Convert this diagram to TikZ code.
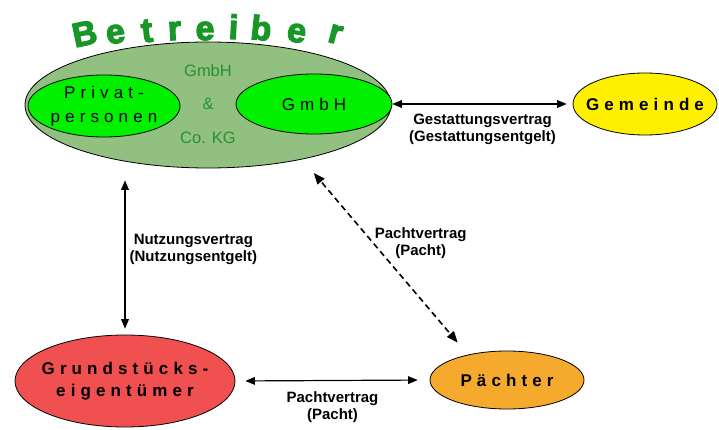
\documentclass[tikz,border=0pt]{standalone}
\usepackage{fontspec}
\setmainfont{Liberation Sans}
\newfontfamily\spacedfont[LetterSpace=30]{Liberation Sans}
\newfontfamily\heavyfont[FakeBold=3.5]{Liberation Sans Bold}
\usetikzlibrary{arrows}
\usetikzlibrary{shapes.geometric}

\definecolor{titlegreen}{RGB}{25,150,40}
\definecolor{sage}{RGB}{145,192,128}
\definecolor{formgreen}{RGB}{40,145,45}
\definecolor{brightgreen}{RGB}{0,240,0}
\definecolor{gemeindegelb}{RGB}{255,240,0}
\definecolor{pachtorange}{RGB}{245,170,45}
\definecolor{eigentumrot}{RGB}{240,80,80}

\begin{document}
\begin{tikzpicture}[x=1pt,y=-1pt,
    partner/.style={ellipse,draw=black,line width=0.8pt,inner ysep=0pt,inner xsep=-20pt,align=center,
      font=\spacedfont\bfseries\fontsize{17}{22}\selectfont},
    contract/.style={align=center,inner sep=1pt,font=\bfseries\fontsize{15}{17}\selectfont},
    link/.style={line width=1.2pt,triangle 45-triangle 45}]
          \useasboundingbox (0,0) rectangle (719,430);
          % Betreiber
          \foreach \ch/\x/\y/\r [count=\n] in {B/87/45/12,e/117/43/9,t/148/42/6,r/175/40/3,e/205/40/0,i/233/39/-3,b/260/40/-6,e/295/42/-10,r/333/43/-15}
            \node[anchor=base,inner sep=0pt,rotate=\r,text=titlegreen,
              font=\heavyfont\fontsize{34}{34}\selectfont] (ltr\n) at (\x,\y) {\ch};
          \node[partner, fill=sage, inner xsep=0pt, minimum width=366pt, minimum height=126pt] (betreiber) at (208,105) {};
          \node[align=center, text=formgreen, font=\fontsize{16.5}{33.5}\selectfont] (rechtsform) at (208,104) {GmbH\\\&\\Co. KG};
          \node[partner, fill=brightgreen, minimum width=152pt, minimum height=62pt,
            font=\spacedfont\fontsize{17}{24}\selectfont] (privat) at (104,106) {Privat-\\personen};
          \node[partner, fill=brightgreen, minimum width=156pt, minimum height=60pt,
            font=\spacedfont\fontsize{17}{24}\selectfont] (gmbh) at (314,104) {GmbH};
          % Gemeinde
          \node[partner, fill=gemeindegelb, minimum width=144pt, minimum height=62pt] (gemeinde) at (645,104) {Gemeinde};
          % Grundstueckseigentuemer
          \node[partner, fill=eigentumrot, minimum width=220pt, minimum height=92pt] (grund) at (125,381) {Grundstücks-\\eigentümer};
          % Paechter
          \node[partner, fill=pachtorange, minimum width=154pt, minimum height=58pt] (paechter) at (507,380) {Pächter};
          % line between GmbH and Gemeinde
          \draw[link, shorten >=6pt] (gmbh.east) -- (gemeinde.west)
            node[contract, midway, below=8pt] (gestattung) {Gestattungsvertrag\\(Gestattungsentgelt)};
          % line between Grundstueckseigentuemer and Betreiber
          \draw[link, shorten <=6pt, shorten >=12pt] (grund.north) -- (grund.north |- betreiber.south)
            node[contract, midway, anchor=west, xshift=3pt, yshift=2pt] (nutzung) {Nutzungsvertrag\\(Nutzungsentgelt)};
          % line between Betreiber and Paechter
          \draw[link, line width=1.6pt, dash pattern=on 6pt off 4pt, shorten <=18pt, shorten >=16pt] (betreiber.-30) -- (paechter.147)
            node[contract, midway, anchor=west, xshift=-12pt, yshift=14pt] (pachtoben) {Pachtvertrag\\(Pacht)};
          % line between Grundstueckseigentuemer and Paechter
          \draw[link, shorten <=10pt, shorten >=12pt] (grund.east) -- (paechter.west)
            node[contract, midway, below=10pt] (pachtunten) {Pachtvertrag\\(Pacht)};
        \end{tikzpicture}
\end{document}
